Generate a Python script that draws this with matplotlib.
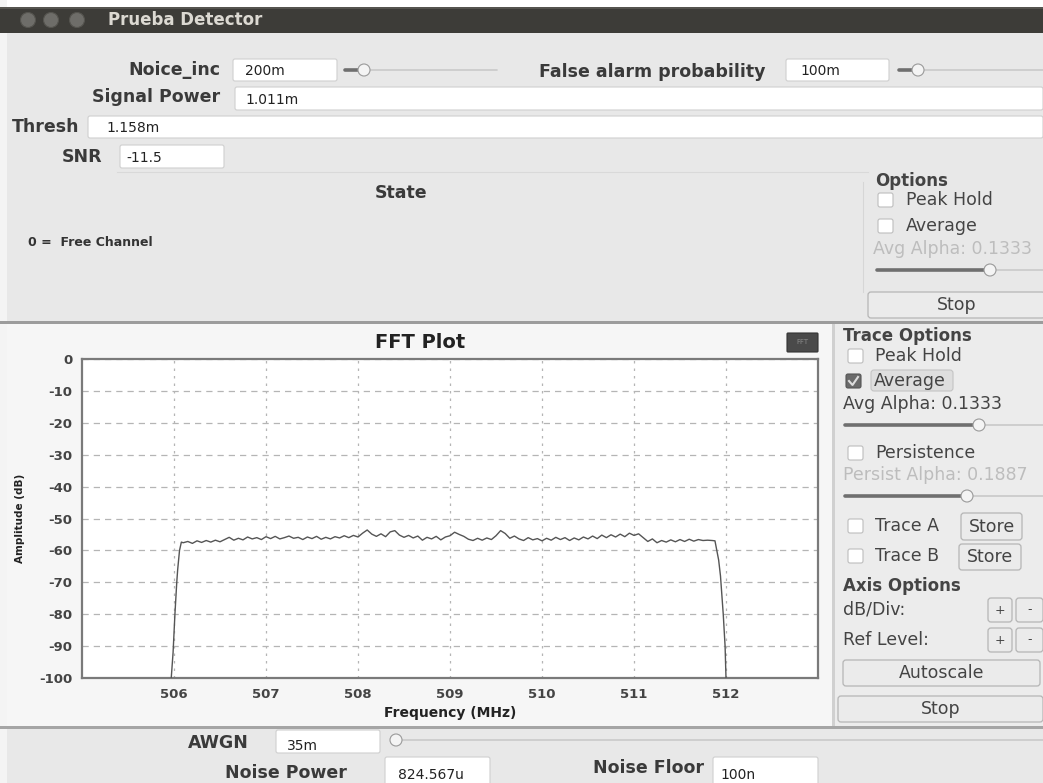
import numpy as np
import matplotlib
matplotlib.use("Agg")
import matplotlib.pyplot as plt
from matplotlib.patches import Rectangle, FancyBboxPatch, Circle

# ---------------- data ----------------
y_ticks = [0, -10, -20, -30, -40, -50, -60, -70, -80, -90, -100]
x_ticks = [506, 507, 508, 509, 510, 511, 512]

rise_freq = [505.97, 505.98, 505.99, 506.00, 506.01, 506.02, 506.03, 506.04, 506.06, 506.08]
rise_amp = [-100, -96, -92, -86, -80, -75, -70, -66, -60, -57.4]

band_start, band_end = 506.10, 511.85
band_amp = [
    -57.6, -57.2, -57.8, -57.0, -57.5, -56.9, -57.4, -56.8, -57.3, -56.6,
    -55.9, -56.8, -56.2, -56.7, -55.8, -56.4, -56.0, -56.6, -55.7, -56.3,
    -55.6, -56.4, -56.0, -55.5, -56.2, -55.9, -56.6, -55.8, -56.3, -55.6,
    -56.5, -55.9, -56.4, -55.7, -56.1, -55.4, -56.0, -55.3, -55.8, -54.6,
    -53.6, -54.9, -55.6, -54.8, -55.7, -54.2, -53.8, -55.2, -55.9, -55.3,
    -56.1, -55.5, -56.8, -55.9, -56.4, -55.6, -56.7, -55.8, -55.4, -54.3,
    -55.0, -55.6, -56.5, -56.9, -56.2, -56.8, -56.1, -56.6, -55.4, -53.8,
    -54.7, -56.2, -55.5, -56.4, -56.9, -56.0, -56.7, -56.3, -57.0, -56.2,
    -56.8, -55.9, -56.6, -56.0, -56.9, -56.1, -56.7, -55.8, -56.4, -55.5,
    -56.3, -55.2, -56.0, -55.1, -55.8, -54.9, -55.7, -54.6, -55.3, -54.8,
    -56.0, -57.2, -56.4, -57.6, -56.9, -57.4, -56.7, -57.3, -56.6, -57.2,
    -56.5, -57.1, -56.6, -56.9, -56.8, -56.9,
]

fall_freq = [511.88, 511.90, 511.92, 511.94, 511.95, 511.97, 511.99, 512.00]
fall_amp = [-57.0, -60, -63, -68, -72, -80, -90, -100]

# ---------------- figure ----------------
W, H = 1043, 783
fig = plt.figure(figsize=(W / 100, H / 100), dpi=100)
bg = fig.add_axes([0, 0, 1, 1])
bg.set_xlim(0, W)
bg.set_ylim(H, 0)
bg.axis("off")

WIN = "#e8e8e8"
TXT = "#333333"
FONT = "DejaVu Sans"


def rect(x0, y0, x1, y1, fc, ec="none", lw=1, z=1):
    bg.add_patch(Rectangle((x0, y0), x1 - x0, y1 - y0, fc=fc, ec=ec, lw=lw, zorder=z))


def rrect(x0, y0, x1, y1, fc, ec="#b8b8b8", lw=0.8, z=2, r=3):
    bg.add_patch(FancyBboxPatch((x0, y0), x1 - x0, y1 - y0,
                                boxstyle=f"round,pad=0,rounding_size={r}",
                                fc=fc, ec=ec, lw=lw, zorder=z))


def txt(x, y, s, size=10, ha="left", weight="normal", color=TXT, z=5):
    bg.text(x, y, s, fontsize=size, ha=ha, va="center", weight=weight,
            color=color, family=FONT, zorder=z)


def entry(x0, y0, x1, y1, s, tx=None, size=10, ty=None):
    rrect(x0, y0, x1, y1, "white", ec="#cfcfcf", lw=0.8, r=2)
    txt(tx if tx is not None else x0 + 12, ty if ty is not None else (y0 + y1) / 2 + 1,
        s, size=size, color="#222222")


def slider(x0, x1, y, knob, filled=True):
    bg.plot([x0, x1], [y, y], color="#c9c9c9", lw=1.2, zorder=3, solid_capstyle="round")
    if filled:
        bg.plot([x0, knob], [y, y], color="#6f6f6f", lw=2.6, zorder=3, solid_capstyle="round")
    bg.add_patch(Circle((knob, y), 6, fc="#f4f4f4", ec="#9a9a9a", lw=0.8, zorder=4))


def checkbox(x, y, checked=False):
    if checked:
        rrect(x, y - 7, x + 15, y + 7, "#6a6a6a", ec="#555555", r=2)
        bg.plot([x + 3, x + 6.5, x + 12], [y, y + 4, y - 4], color="#dddddd", lw=1.5, zorder=4)
    else:
        rrect(x, y - 7, x + 15, y + 7, "white", ec="#bdbdbd", r=2)


def button(x0, y0, x1, y1, s, size=12.5):
    rrect(x0, y0, x1, y1, "#ebebeb", ec="#b5b5b5", lw=0.9, r=3)
    txt((x0 + x1) / 2, (y0 + y1) / 2, s, size=size, ha="center", color="#444444")


LBL = 12.5   # top labels (bold)
RP = 12.5    # right-panel regular text

# window background
rect(0, 0, W, H, WIN, z=0)
rect(0, 0, W, 7, "#ffffff", z=0.5)
rect(0, 0, 7, H, "#f4f4f4", z=0.5)
# title bar
rect(0, 7, W, 33, "#3d3c38", z=1)
rect(0, 7, W, 9, "#55544f", z=1.1)
for cx in (28, 51, 77):
    bg.add_patch(Circle((cx, 20), 7.5, fc="#6e6d69", ec="#55544f", lw=0.8, zorder=2))
txt(108, 20, "Prueba Detector", size=12, weight="bold", color="#dcd9d2")

# top controls
txt(220, 70, "Noice_inc", size=LBL, ha="right", weight="bold", color="#3a3a3a")
entry(233, 59, 337, 81, "200m", tx=245)
slider(345, 497, 70, 364)
txt(539, 72, "False alarm probability", size=LBL, weight="bold", color="#3a3a3a")
entry(786, 59, 889, 81, "100m", tx=800)
slider(899, 1043, 70, 918)

txt(220, 97, "Signal Power", size=LBL, ha="right", weight="bold", color="#3a3a3a")
entry(235, 87, 1043, 110, "1.011m", tx=245)
txt(12, 127, "Thresh", size=LBL, weight="bold", color="#3a3a3a")
entry(88, 116, 1043, 138, "1.158m", tx=106)
txt(102, 157, "SNR", size=LBL, ha="right", weight="bold", color="#3a3a3a")
entry(120, 145, 224, 168, "-11.5", tx=126)
bg.plot([117, 868], [172, 172], color="#d9d9d9", lw=0.8, zorder=2)

txt(401, 193, "State", size=12.5, ha="center", weight="bold", color="#3a3a3a")
txt(28, 242, "0 =  Free Channel", size=9, weight="bold")

# Options group (top right)
bg.plot([863, 863], [182, 292], color="#d6d6d6", lw=0.8, zorder=2)
txt(875, 181, "Options", size=12, weight="bold", color="#444444")
checkbox(878, 200)
txt(906, 200, "Peak Hold", size=RP, color="#444444")
checkbox(878, 226)
txt(906, 226, "Average", size=RP, color="#444444")
txt(873, 249, "Avg Alpha: 0.1333", size=12.5, color="#bdbdbd")
slider(877, 1043, 270, 990)
button(868, 292, 1045, 318, "Stop")

# separator
rect(0, 321, W, 324, "#9c9c9c", z=2)

# plot panel and right panel
rect(7, 324, 832, 727, "#f6f6f6", z=1)
rect(832, 324, 835, 727, "#d0d0d0", z=1)
rect(835, 324, W, 727, "#ececec", z=1)
rect(0, 726, W, 729, "#a5a5a5", z=2)

# FFT badge
rrect(787, 333, 818, 352, "#4a4a4a", ec="#333333", r=1)
txt(802.5, 342.5, "FFT", size=5, ha="center", color="#8a8a8a")
txt(420, 342, "FFT Plot", size=14, ha="center", weight="bold", color="#222222")

# right panel: trace options
txt(843, 336, "Trace Options", size=12, weight="bold", color="#444444")
checkbox(848, 356)
txt(875, 356, "Peak Hold", size=RP, color="#444444")
checkbox(846, 381, checked=True)
rrect(871, 370, 953, 391, "#dedede", ec="#c4c4c4", r=3)
txt(874, 381, "Average", size=RP, color="#444444")
txt(843, 404, "Avg Alpha: 0.1333", size=RP, color="#444444")
slider(845, 1043, 425, 979)
checkbox(848, 453)
txt(875, 453, "Persistence", size=RP, color="#444444")
txt(843, 475, "Persist Alpha: 0.1887", size=RP, color="#bdbdbd")
slider(845, 1043, 496, 967)
checkbox(848, 526)
txt(875, 526, "Trace A", size=RP, color="#444444")
button(961, 513, 1022, 540, "Store")
checkbox(848, 556)
txt(875, 556, "Trace B", size=RP, color="#444444")
button(959, 544, 1021, 570, "Store")
txt(843, 586, "Axis Options", size=12, weight="bold", color="#444444")
txt(843, 610, "dB/Div:", size=RP, color="#444444")
button(988, 598, 1012, 622, "+", size=9)
button(1016, 598, 1043, 622, "-", size=9)
txt(843, 640, "Ref Level:", size=RP, color="#444444")
button(988, 628, 1012, 652, "+", size=9)
button(1016, 628, 1043, 652, "-", size=9)
button(843, 660, 1040, 686, "Autoscale")
button(838, 696, 1043, 722, "Stop")

# bottom controls
txt(188, 743, "AWGN", size=12.5, weight="bold", color="#3a3a3a")
entry(276, 730, 380, 753, "35m", tx=287, ty=746)
slider(402, 1043, 740, 396, filled=False)
txt(225, 773, "Noise Power", size=12.5, weight="bold", color="#3a3a3a")
entry(385, 757, 490, 786, "824.567u", tx=398, ty=775)
txt(593, 768, "Noise Floor", size=12.5, weight="bold", color="#3a3a3a")
entry(713, 757, 818, 786, "100n", tx=720, ty=775)

# ---------------- FFT plot ----------------
ax_l, ax_r, ax_t, ax_b = 82, 818, 359, 678
ax = fig.add_axes([ax_l / W, 1 - ax_b / H, (ax_r - ax_l) / W, (ax_b - ax_t) / H])
ax.set_facecolor("white")
ax.set_xlim(505, 513)
ax.set_ylim(-100, 0)

band_freq = np.linspace(band_start, band_end, len(band_amp))
freq = np.concatenate([rise_freq, band_freq, fall_freq])
amp = np.concatenate([rise_amp, band_amp, fall_amp])
ax.plot(freq, amp, color="#555555", lw=1.0, zorder=3)

ax.set_xticks(x_ticks)
ax.set_yticks(y_ticks)
ax.set_xticklabels([str(v) for v in x_ticks], fontsize=9.5, weight="bold", color="#444444", family=FONT)
ax.set_yticklabels([str(v) for v in y_ticks], fontsize=9.5, weight="bold", color="#444444", family=FONT)
ax.tick_params(length=0, pad=7)
ax.xaxis.grid(True, color="#b5b5b5", lw=0.9, linestyle=(0, (2, 4)))
ax.yaxis.grid(True, color="#b5b5b5", lw=0.9, linestyle=(0, (5, 4)))
for s in ax.spines.values():
    s.set_color("#7a7a7a")
    s.set_linewidth(1.6)
ax.set_xlabel("Frequency (MHz)", fontsize=10, weight="bold", color="#222222", labelpad=4, family=FONT)
ax.set_ylabel("Amplitude (dB)", fontsize=7.5, weight="bold", color="#222222", labelpad=10, family=FONT)

fig.savefig("out.png", dpi=100)
